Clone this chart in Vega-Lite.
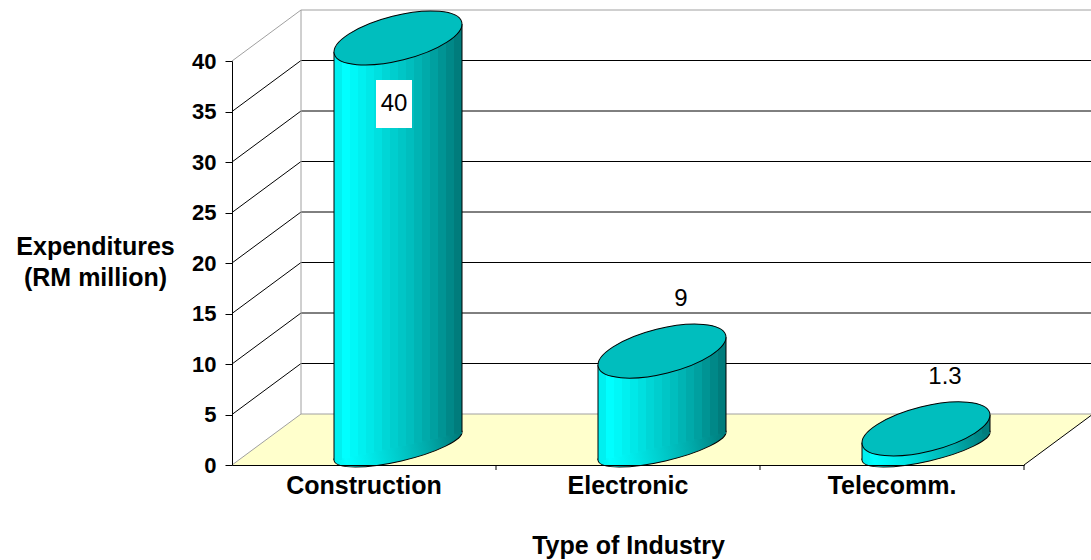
{
  "$schema": "https://vega.github.io/schema/vega-lite/v6.json",
  "autosize": {"type": "none"},
  "width": 792,
  "height": 404,
  "padding": {"left": 232, "top": 61, "right": 67, "bottom": 95},
  "background": "white",
  "config": {"view": {"stroke": null}, "font": "Liberation Sans"},
  "datasets": {
    "industries": [
      {"industry": "Construction", "value": 40},
      {"industry": "Electronic", "value": 9},
      {"industry": "Telecomm.", "value": 1.3}
    ],
    "ticks": [
      {"v": 0}, {"v": 5}, {"v": 10}, {"v": 15}, {"v": 20},
      {"v": 25}, {"v": 30}, {"v": 35}, {"v": 40}
    ]
  },
  "data": {"name": "industries"},
  "layer": [
    {
      "data": {"values": [{"plane": "floor"}]},
      "mark": {"type": "point", "shape": "M -1 0.0592 L -0.8397 -0.0592 L 1 -0.0592 L 0.8397 0.0592 Z", "size": 741321, "filled": true, "fill": "#FFFFCC", "strokeWidth": 0, "opacity": 1, "xOffset": 34.5, "yOffset": -25.5},
      "encoding": {"x": {"datum": "Electronic"}, "y": {"datum": 0}}
    },
    {
      "data": {"name": "ticks"},
      "mark": {"type": "rule", "strokeWidth": 1, "xOffset": -63, "x2Offset": 201, "yOffset": -51},
      "encoding": {
        "x": {"datum": "Construction"},
        "x2": {"datum": "Telecomm."},
        "y": {"field": "v", "type": "quantitative"},
        "color": {"condition": {"test": "datum.v === 0 || datum.v === 40", "value": "#a0a0a0"}, "value": "#000000"}
      }
    },
    {
      "data": {"name": "ticks"},
      "mark": {"type": "rule", "strokeWidth": 1, "xOffset": -132, "x2Offset": -63, "y2Offset": -51},
      "encoding": {
        "x": {"datum": "Construction"},
        "x2": {"datum": "Construction"},
        "y": {"field": "v", "type": "quantitative"},
        "y2": {"field": "v"},
        "color": {"condition": {"test": "datum.v === 0 || datum.v === 40", "value": "#a0a0a0"}, "value": "#000000"}
      }
    },
    {
      "data": {"values": [{"edge": "wall"}]},
      "mark": {"type": "rule", "strokeWidth": 1, "color": "#a0a0a0", "xOffset": -63, "yOffset": -51, "y2Offset": -51},
      "encoding": {"x": {"datum": "Construction"}, "y": {"datum": 0}, "y2": {"datum": 40}}
    },
    {
      "data": {"values": [{"edge": "floor"}]},
      "mark": {"type": "rule", "strokeWidth": 1, "color": "#000000", "xOffset": 132, "x2Offset": 201, "y2Offset": -51},
      "encoding": {"x": {"datum": "Telecomm."}, "x2": {"datum": "Telecomm."}, "y": {"datum": 0}, "y2": {"datum": 0}}
    },
    {
      "mark": {"type": "rule", "strokeWidth": 1, "color": "#000000", "xOffset": 132, "y2Offset": 5},
      "encoding": {"x": {"field": "industry", "type": "nominal"}, "y": {"datum": 0}, "y2": {"datum": 0}}
    },
    {
      "mark": {
        "type": "point",
        "shape": "M -1 0 C -1 -0.1288 -0.5523 -0.2332 0 -0.2332 C 0.5523 -0.2332 1 -0.1288 1 0 C 1 0.1288 0.5523 0.2332 0 0.2332 C -0.5523 0.2332 -1 0.1288 -1 0 Z",
        "size": 17213, "angle": -13, "filled": true, "opacity": 1,
        "fill": {"gradient": "linear", "x1": 0, "y1": 0, "x2": 1, "y2": 0, "stops": [
          {"offset": 0, "color": "#00E8E8"}, {"offset": 0.09, "color": "#00FFFF"},
          {"offset": 0.22, "color": "#00F0F0"}, {"offset": 0.47, "color": "#00CECE"},
          {"offset": 0.72, "color": "#00AAAA"}, {"offset": 1, "color": "#007878"}]},
        "stroke": "#000000", "strokeWidth": 1, "xOffset": 34, "yOffset": -19
      },
      "encoding": {
        "x": {
          "field": "industry", "type": "nominal",
          "scale": {"paddingInner": 0, "paddingOuter": 0},
          "axis": {
            "title": "Type of Industry", "titleFontSize": 25, "titleFontWeight": "bold", "titleColor": "#000000",
            "titleBaseline": "alphabetic", "titleY": 88,
            "labelAngle": 0, "labelAlign": "center", "labelFontSize": 25, "labelFontWeight": "bold", "labelColor": "#000000", "labelPadding": 20,
            "ticks": false, "domainColor": "#000000", "grid": false, "zindex": 1
          }
        },
        "y": {"datum": 0}
      }
    },
    {"mark": {"type": "bar", "width": 8, "xOffset": -26, "yOffset": -10.75, "y2Offset": -5, "color": "#00F0F0"},
     "encoding": {"x": {"field": "industry", "type": "nominal"},
       "y": {"field": "value", "type": "quantitative",
         "scale": {"domain": [0, 40], "nice": false},
         "axis": {
           "title": ["Expenditures", "(RM million)"], "titleAngle": 0, "titleAlign": "center", "titleBaseline": "alphabetic",
           "titleX": -137, "titleY": 193, "titleFontSize": 25, "titleFontWeight": "bold", "titleColor": "#000000", "titleLineHeight": 31,
           "values": [0, 5, 10, 15, 20, 25, 30, 35, 40],
           "labelFontSize": 22, "labelFontWeight": "bold", "labelColor": "#000000", "labelPadding": 9,
           "tickSize": 7, "tickColor": "#000000", "domainColor": "#000000", "grid": false, "zindex": 1
         }},
       "y2": {"datum": 0}}},
    {"mark": {"type": "bar", "width": 8, "xOffset": -18, "yOffset": -12.5, "y2Offset": -6.75, "color": "#00FFFF"},
     "encoding": {"x": {"field": "industry", "type": "nominal"}, "y": {"field": "value", "type": "quantitative"}, "y2": {"datum": 0}}},
    {"mark": {"type": "bar", "width": 8, "xOffset": -10, "yOffset": -14.25, "y2Offset": -8.5, "color": "#00F8F8"},
     "encoding": {"x": {"field": "industry", "type": "nominal"}, "y": {"field": "value", "type": "quantitative"}, "y2": {"datum": 0}}},
    {"mark": {"type": "bar", "width": 8, "xOffset": -2, "yOffset": -16, "y2Offset": -10.25, "color": "#00F0F0"},
     "encoding": {"x": {"field": "industry", "type": "nominal"}, "y": {"field": "value", "type": "quantitative"}, "y2": {"datum": 0}}},
    {"mark": {"type": "bar", "width": 8, "xOffset": 6, "yOffset": -17.75, "y2Offset": -12, "color": "#00E8E8"},
     "encoding": {"x": {"field": "industry", "type": "nominal"}, "y": {"field": "value", "type": "quantitative"}, "y2": {"datum": 0}}},
    {"mark": {"type": "bar", "width": 8, "xOffset": 14, "yOffset": -19.5, "y2Offset": -13.75, "color": "#00E0E0"},
     "encoding": {"x": {"field": "industry", "type": "nominal"}, "y": {"field": "value", "type": "quantitative"}, "y2": {"datum": 0}}},
    {"mark": {"type": "bar", "width": 8, "xOffset": 22, "yOffset": -21.25, "y2Offset": -15.5, "color": "#00D6D6"},
     "encoding": {"x": {"field": "industry", "type": "nominal"}, "y": {"field": "value", "type": "quantitative"}, "y2": {"datum": 0}}},
    {"mark": {"type": "bar", "width": 8, "xOffset": 30, "yOffset": -23, "y2Offset": -17.25, "color": "#00CECE"},
     "encoding": {"x": {"field": "industry", "type": "nominal"}, "y": {"field": "value", "type": "quantitative"}, "y2": {"datum": 0}}},
    {"mark": {"type": "bar", "width": 8, "xOffset": 38, "yOffset": -24.75, "y2Offset": -19, "color": "#00C6C6"},
     "encoding": {"x": {"field": "industry", "type": "nominal"}, "y": {"field": "value", "type": "quantitative"}, "y2": {"datum": 0}}},
    {"mark": {"type": "bar", "width": 8, "xOffset": 46, "yOffset": -26.5, "y2Offset": -20.75, "color": "#00BEBE"},
     "encoding": {"x": {"field": "industry", "type": "nominal"}, "y": {"field": "value", "type": "quantitative"}, "y2": {"datum": 0}}},
    {"mark": {"type": "bar", "width": 8, "xOffset": 54, "yOffset": -28.25, "y2Offset": -22.5, "color": "#00B4B4"},
     "encoding": {"x": {"field": "industry", "type": "nominal"}, "y": {"field": "value", "type": "quantitative"}, "y2": {"datum": 0}}},
    {"mark": {"type": "bar", "width": 8, "xOffset": 62, "yOffset": -30, "y2Offset": -24.25, "color": "#00AAAA"},
     "encoding": {"x": {"field": "industry", "type": "nominal"}, "y": {"field": "value", "type": "quantitative"}, "y2": {"datum": 0}}},
    {"mark": {"type": "bar", "width": 8, "xOffset": 70, "yOffset": -31.75, "y2Offset": -26, "color": "#00A0A0"},
     "encoding": {"x": {"field": "industry", "type": "nominal"}, "y": {"field": "value", "type": "quantitative"}, "y2": {"datum": 0}}},
    {"mark": {"type": "bar", "width": 8, "xOffset": 78, "yOffset": -33.5, "y2Offset": -27.75, "color": "#009494"},
     "encoding": {"x": {"field": "industry", "type": "nominal"}, "y": {"field": "value", "type": "quantitative"}, "y2": {"datum": 0}}},
    {"mark": {"type": "bar", "width": 8, "xOffset": 86, "yOffset": -35.25, "y2Offset": -29.5, "color": "#008888"},
     "encoding": {"x": {"field": "industry", "type": "nominal"}, "y": {"field": "value", "type": "quantitative"}, "y2": {"datum": 0}}},
    {"mark": {"type": "bar", "width": 8, "xOffset": 94, "yOffset": -37, "y2Offset": -31.25, "color": "#007C7C"},
     "encoding": {"x": {"field": "industry", "type": "nominal"}, "y": {"field": "value", "type": "quantitative"}, "y2": {"datum": 0}}},
    {
      "mark": {"type": "rule", "color": "#000000", "strokeWidth": 1, "xOffset": -30, "yOffset": -9, "y2Offset": -5},
      "encoding": {"x": {"field": "industry", "type": "nominal"}, "y": {"field": "value", "type": "quantitative"}, "y2": {"datum": 0}}
    },
    {
      "mark": {"type": "rule", "color": "#000000", "strokeWidth": 1, "xOffset": 98, "yOffset": -37, "y2Offset": -33},
      "encoding": {"x": {"field": "industry", "type": "nominal"}, "y": {"field": "value", "type": "quantitative"}, "y2": {"datum": 0}}
    },
    {
      "mark": {
        "type": "point",
        "shape": "M -1 0 C -1 -0.1892 -0.5523 -0.3425 0 -0.3425 C 0.5523 -0.3425 1 -0.1892 1 0 C 1 0.1892 0.5523 0.3425 0 0.3425 C -0.5523 0.3425 -1 0.1892 -1 0 Z",
        "size": 17266, "angle": -14, "filled": true, "opacity": 1,
        "fill": "#00BEBE", "stroke": "#000000", "strokeWidth": 1, "xOffset": 34, "yOffset": -23
      },
      "encoding": {"x": {"field": "industry", "type": "nominal"}, "y": {"field": "value", "type": "quantitative"}}
    },
    {
      "transform": [{"filter": "datum.value >= 30"}],
      "mark": {"type": "point", "shape": "M -0.75 -1 L 0.75 -1 L 0.75 1 L -0.75 1 Z", "size": 2304, "filled": true, "fill": "#FFFFFF", "strokeWidth": 0, "opacity": 1, "xOffset": 30, "yOffset": 43},
      "encoding": {"x": {"field": "industry", "type": "nominal"}, "y": {"field": "value", "type": "quantitative"}}
    },
    {
      "transform": [{"filter": "datum.value >= 30"}],
      "mark": {"type": "text", "font": "Liberation Sans", "fontSize": 24, "color": "#000000", "baseline": "middle", "align": "center", "xOffset": 30, "yOffset": 43},
      "encoding": {"x": {"field": "industry", "type": "nominal"}, "y": {"field": "value", "type": "quantitative"}, "text": {"field": "value", "type": "quantitative", "format": ".2~f"}}
    },
    {
      "transform": [{"filter": "datum.value < 30"}],
      "mark": {"type": "text", "font": "Liberation Sans", "fontSize": 24, "color": "#000000", "baseline": "middle", "align": "center", "xOffset": 53, "yOffset": -75},
      "encoding": {"x": {"field": "industry", "type": "nominal"}, "y": {"field": "value", "type": "quantitative"}, "text": {"field": "value", "type": "quantitative", "format": ".2~f"}}
    }
  ]
}
